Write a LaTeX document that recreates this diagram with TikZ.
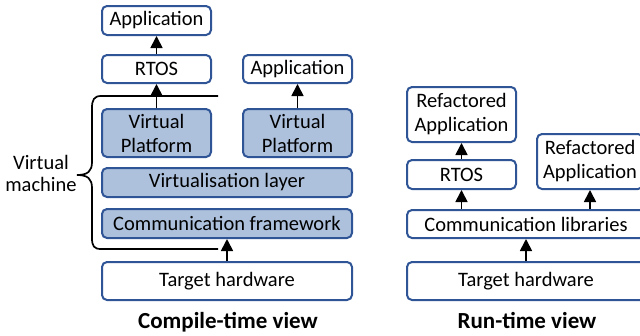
\documentclass[tikz,border=0pt]{standalone}
\usepackage{fontspec}
\setmainfont{Carlito}
\usetikzlibrary{arrows.meta}
\definecolor{bordblue}{HTML}{2F5597}
\definecolor{fillblue}{HTML}{ADC1DC}
\tikzset{
  box/.style={draw=bordblue, line width=2pt, rounded corners=5pt, fill=white, inner sep=0pt, align=center,
    font=\fontsize{20.5}{24}\selectfont},
  shbox/.style={box, fill=fillblue},
  arr/.style={line width=1.7pt, -{Triangle[width=12pt,length=12pt]}},
  bracel/.style={line width=1.7pt},
  ttl/.style={font=\bfseries\fontsize{23}{26}\selectfont},
}
\begin{document}
\begin{tikzpicture}[x=1pt,y=-1pt]
\useasboundingbox (0,0) rectangle (640,335);
\clip (0,0) rectangle (640,335);
% compile-time view
\node[box, minimum width=109pt, minimum height=29pt] (app1) at (156.5,20.5) {Application};
\node[box, minimum width=109pt, minimum height=28pt] (rtos1) at (156.5,69) {RTOS};
\node[box, minimum width=109pt, minimum height=28pt] (app2) at (297.5,69) {Application};
\node[shbox, minimum width=109pt, minimum height=48pt] (vp1) at (156.5,133) {Virtual\\Platform};
\node[shbox, minimum width=109pt, minimum height=48pt] (vp2) at (297.5,133) {Virtual\\Platform};
\node[shbox, minimum width=250pt, minimum height=29pt] (virt) at (227,182.5) {Virtualisation layer};
\node[shbox, minimum width=250pt, minimum height=29pt] (comm) at (227,223.5) {Communication framework};
\node[box, minimum width=250pt, minimum height=38pt] (th1) at (227,281) {Target hardware};
\node[ttl] (t1) at (228,322) {Compile-time view};
\draw[arr] (rtos1.north) -- (app1.south);
\draw[arr] (vp1.north) -- (rtos1.south);
\draw[arr] (vp2.north) -- (app2.south);
\draw[arr] (th1.north) -- (comm.south);
% brace
\coordinate (bt) at (218,96);
\coordinate (bb) at (218,249);
\draw[bracel] (bt) -- (101,96) .. controls (94,96) and (92,100) .. (92,108) -- (92,162)
  .. controls (92,171) and (88,175) .. (77,175) .. controls (88,175) and (92,179) .. (92,188)
  -- (92,238) .. controls (92,246) and (94,249) .. (101,249) -- (bb);
\node[align=center, inner sep=0pt, font=\fontsize{20.5}{22}\selectfont] (vm) at (41,173) {Virtual\\machine};
% run-time view
\node[box, minimum width=109pt, minimum height=55pt] (rapp1) at (461.5,114.5) {Refactored\\Application};
\node[box, minimum width=109pt, minimum height=29pt] (rtos2) at (461.5,174.5) {RTOS};
\node[box, minimum width=106pt, minimum height=55pt] (rapp2) at (590,161.5) {Refactored\\Application};
\node[box, minimum width=238pt, minimum height=28pt] (libs) at (526,224) {Communication libraries};
\node[box, minimum width=238pt, minimum height=38pt] (th2) at (526,281) {Target hardware};
\node[ttl] (t2) at (527,320) {Run-time view};
\draw[arr] (rtos2.north) -- (rapp1.south);
\draw[arr] (libs.north -| rtos2) -- (rtos2.south);
\draw[arr] (libs.north -| rapp2) -- (rapp2.south);
\draw[arr] (th2.north) -- (libs.south);
\end{tikzpicture}
\end{document}
